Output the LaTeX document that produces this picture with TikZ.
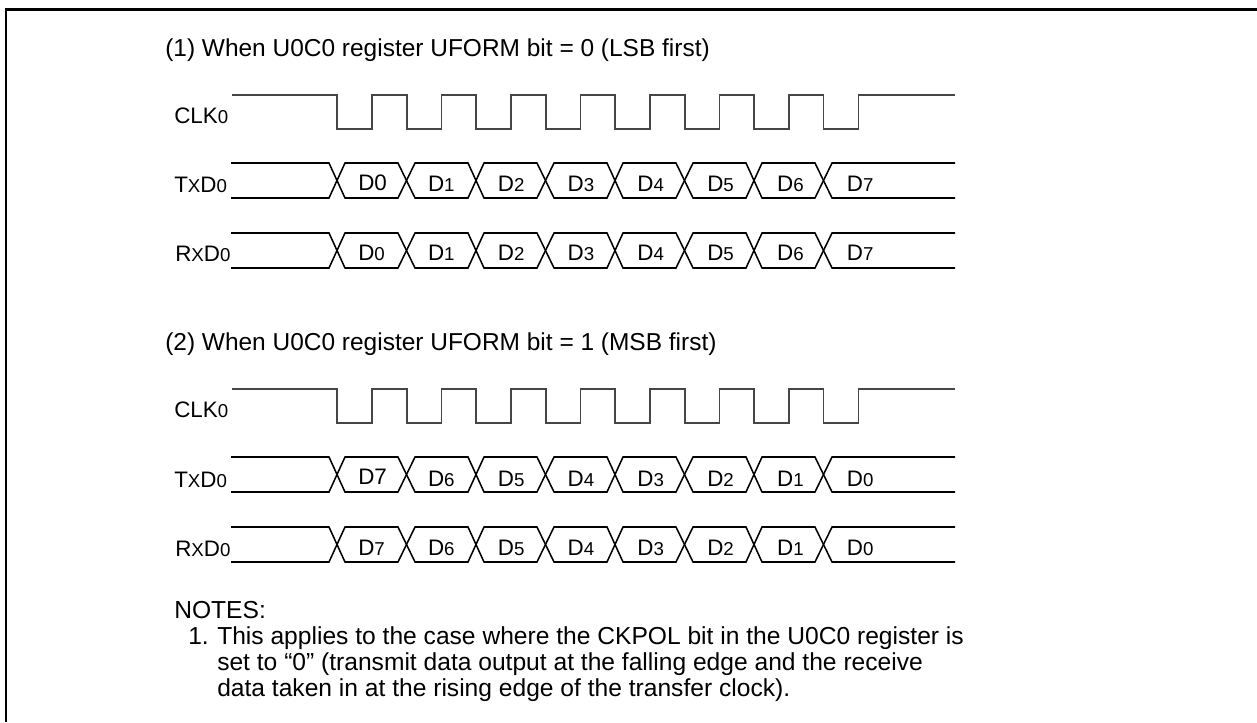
\documentclass[tikz,border=0pt]{standalone}
\usepackage{fontspec}
\setmainfont{Liberation Sans}
\usetikzlibrary{positioning}
\definecolor{clkgray}{RGB}{70,70,70}
\newcommand{\subsz}[1]{{\fontsize{14}{16}\selectfont #1}}
\tikzset{
  sigline/.style={line width=1.15pt,black},
  clkline/.style={line width=0.8pt,clkgray},
  framing/.style={line width=1.9pt,black},
  sigtext/.style={inner sep=0pt,anchor=base west,font=\fontsize{16.8}{19}\selectfont},
  headtext/.style={inner sep=0pt,anchor=base west,font=\fontsize{18.35}{20}\selectfont},
  notetext/.style={inner sep=0pt,anchor=base west,font=\fontsize{18.45}{20}\selectfont},
}
\begin{document}
\begin{tikzpicture}[x=0.75pt,y=-0.75pt]
  \useasboundingbox (0,0) rectangle (1257,722);
  \draw[framing] (6,722) -- (6,9.5) -- (1257,9.5);
  % headings
  \node[headtext] (headone) at (165,56) {(1) When U0C0 register UFORM bit = 0 (LSB first)};
  \node[headtext] (headtwo) at (165,350) {(2) When U0C0 register UFORM bit = 1 (MSB first)};
  % clock rows
  \foreach \ytop in {95,389}{
    \draw[clkline] (232,\ytop) -- (337,\ytop)
      -- (337,\ytop+34) -- (372,\ytop+34) -- (372,\ytop) -- (407,\ytop)
      -- (407,\ytop+34) -- (441.5,\ytop+34) -- (441.5,\ytop) -- (476,\ytop)
      -- (476,\ytop+34) -- (511,\ytop+34) -- (511,\ytop) -- (546,\ytop)
      -- (546,\ytop+34) -- (580.5,\ytop+34) -- (580.5,\ytop) -- (615,\ytop)
      -- (615,\ytop+34) -- (650,\ytop+34) -- (650,\ytop) -- (685,\ytop)
      -- (685,\ytop+34) -- (719.5,\ytop+34) -- (719.5,\ytop) -- (754,\ytop)
      -- (754,\ytop+34) -- (789,\ytop+34) -- (789,\ytop) -- (823.5,\ytop)
      -- (823.5,\ytop+34) -- (858.5,\ytop+34) -- (858.5,\ytop) -- (955,\ytop);
  }
  % data rows
  \foreach \ytop in {163,233,457,527}{
    \draw[sigline] (231,\ytop) -- (329,\ytop) -- (345,\ytop+35) -- (398,\ytop+35) -- (415,\ytop) -- (468,\ytop)
      -- (484,\ytop+35) -- (537,\ytop+35) -- (554,\ytop) -- (607,\ytop) -- (623,\ytop+35) -- (676,\ytop+35)
      -- (693,\ytop) -- (746,\ytop) -- (762,\ytop+35) -- (815,\ytop+35) -- (832,\ytop) -- (955,\ytop);
    \draw[sigline] (231,\ytop+35) -- (329,\ytop+35) -- (345,\ytop) -- (398,\ytop) -- (415,\ytop+35) -- (468,\ytop+35)
      -- (484,\ytop) -- (537,\ytop) -- (554,\ytop+35) -- (607,\ytop+35) -- (623,\ytop) -- (676,\ytop)
      -- (693,\ytop+35) -- (746,\ytop+35) -- (762,\ytop) -- (815,\ytop) -- (832,\ytop+35) -- (955,\ytop+35);
  }
  % row names
  \foreach \yb/\nm in {123/a,417/b}
    \node[sigtext] (clk\nm) at (174,\yb) {CLK\subsz{0}};
  \foreach \yb/\nm in {192/a,487/b}
    \node[sigtext] (txd\nm) at (174,\yb) {T\subsz{X}D\subsz{0}};
  \foreach \yb/\nm in {261/a,556/b}
    \node[sigtext] (rxd\nm) at (175,\yb) {R\subsz{X}D\subsz{0}};
  % bit labels
  \node[sigtext] (txa0) at (358,190) {D0};
  \node[sigtext] (txb0) at (358,484) {D7};
  \foreach \k in {1,...,7}{
    \pgfmathtruncatemacro{\rev}{7-\k}
    \node[sigtext] (txa\k) at ({358+69.8*\k},191) {D\subsz{\k}};
    \node[sigtext] (txb\k) at ({358+69.8*\k},486) {D\subsz{\rev}};
  }
  \foreach \k in {0,...,7}{
    \pgfmathtruncatemacro{\rev}{7-\k}
    \node[sigtext] (rxa\k) at ({358+69.8*\k},260) {D\subsz{\k}};
    \node[sigtext] (rxb\k) at ({358+69.8*\k},555) {D\subsz{\rev}};
  }
  % notes
  \node[notetext] (notes) at (174,618) {NOTES:};
  \node[notetext] (numone) at (188,644) {1.};
  \node[notetext] (lineone) at (217,644) {This applies to the case where the CKPOL bit in the U0C0 register is};
  \node[notetext] (linetwo) at (217,670) {set to “0” (transmit data output at the falling edge and the receive};
  \node[notetext] (linethree) at (217,696) {data taken in at the rising edge of the transfer clock).};
\end{tikzpicture}
\end{document}
